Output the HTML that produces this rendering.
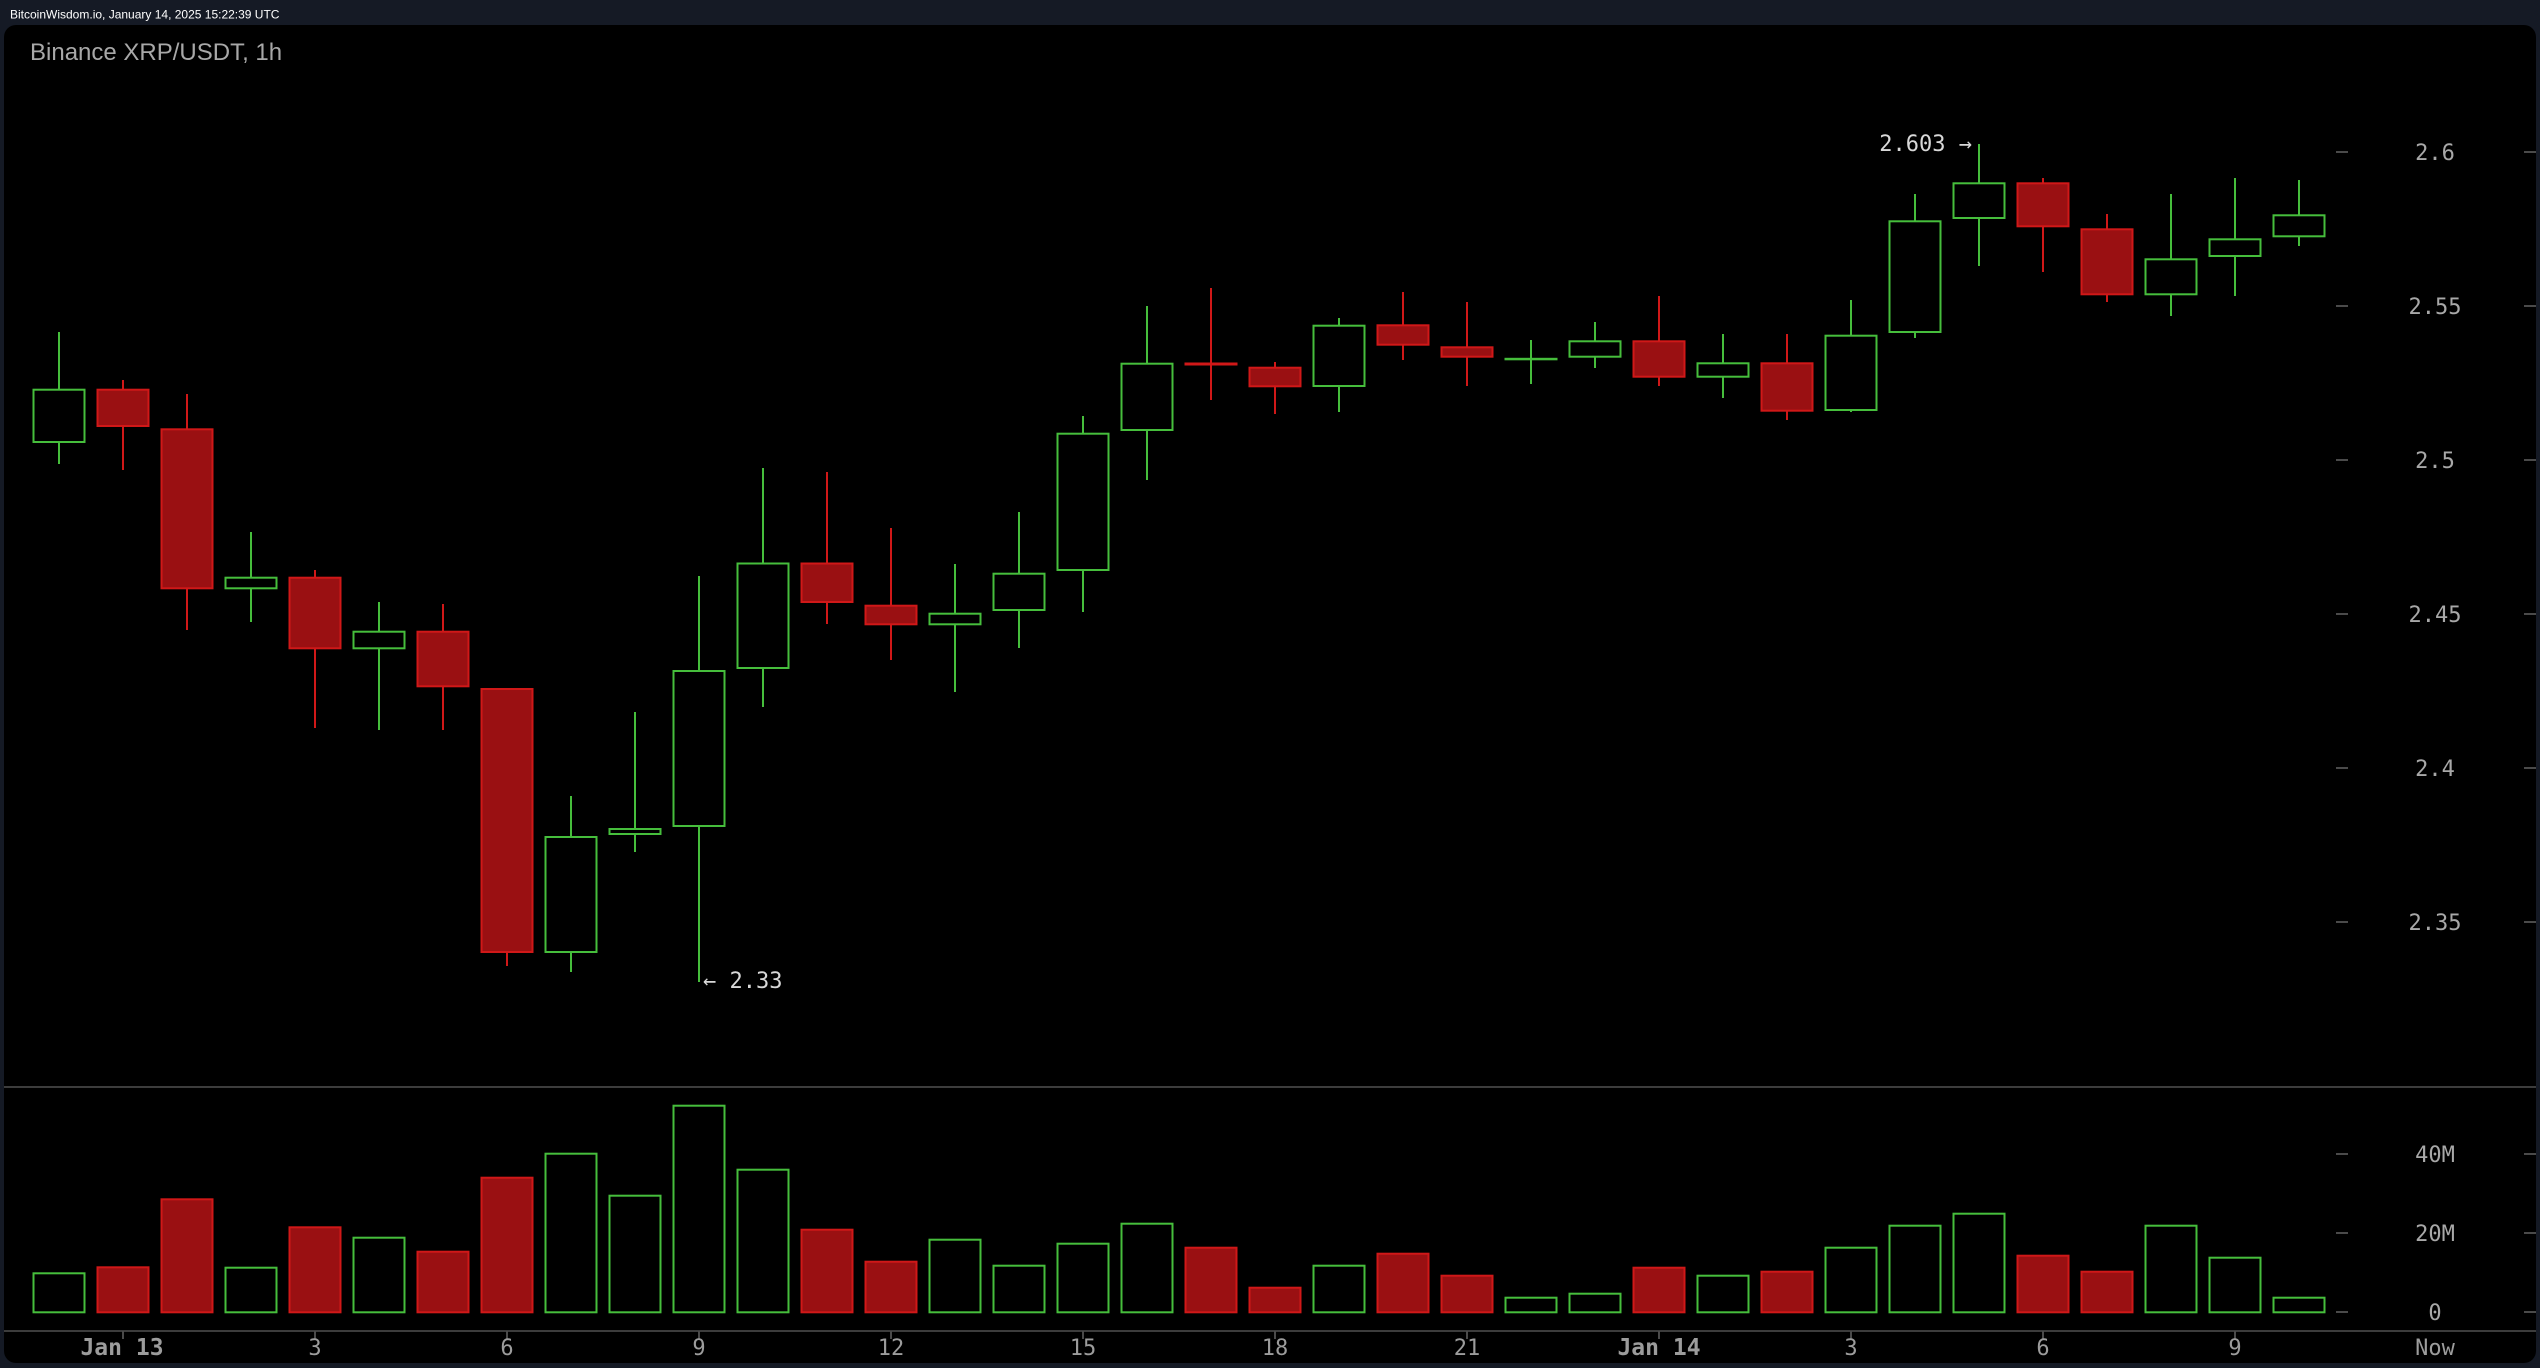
<!DOCTYPE html>
<html><head><meta charset="utf-8"><style>
html,body{margin:0;padding:0;background:#151a25;}
svg{display:block}
</style></head><body>
<svg width="2540" height="1368" viewBox="0 0 2540 1368" xmlns="http://www.w3.org/2000/svg">
<rect x="0" y="0" width="2540" height="1368" fill="#151a25"/>
<text x="10" y="18.5" font-family="Liberation Sans, Arial, sans-serif" font-size="12" fill="#ffffff">BitcoinWisdom.io, January 14, 2025 15:22:39 UTC</text>
<rect x="4" y="25" width="2532" height="1338" rx="12" ry="12" fill="#000"/>
<text x="30" y="60" font-family="Liberation Sans, Arial, sans-serif" font-size="24" fill="#a8a8a8">Binance XRP/USDT, 1h</text>
<line x1="4" y1="1087" x2="2536" y2="1087" stroke="#3c3c3c" stroke-width="2"/>
<line x1="4" y1="1331" x2="2536" y2="1331" stroke="#3c3c3c" stroke-width="2"/>
<g stroke="#4a4a4a" stroke-width="2">
<line x1="2336" y1="152" x2="2348" y2="152"/><line x1="2524" y1="152" x2="2536" y2="152"/>
<line x1="2336" y1="306" x2="2348" y2="306"/><line x1="2524" y1="306" x2="2536" y2="306"/>
<line x1="2336" y1="460" x2="2348" y2="460"/><line x1="2524" y1="460" x2="2536" y2="460"/>
<line x1="2336" y1="614" x2="2348" y2="614"/><line x1="2524" y1="614" x2="2536" y2="614"/>
<line x1="2336" y1="768" x2="2348" y2="768"/><line x1="2524" y1="768" x2="2536" y2="768"/>
<line x1="2336" y1="922" x2="2348" y2="922"/><line x1="2524" y1="922" x2="2536" y2="922"/>
<line x1="2336" y1="1154" x2="2348" y2="1154"/><line x1="2524" y1="1154" x2="2536" y2="1154"/>
<line x1="2336" y1="1233" x2="2348" y2="1233"/><line x1="2524" y1="1233" x2="2536" y2="1233"/>
<line x1="2336" y1="1312" x2="2348" y2="1312"/><line x1="2524" y1="1312" x2="2536" y2="1312"/>
<line x1="123" y1="1331" x2="123" y2="1339"/><line x1="315" y1="1331" x2="315" y2="1339"/>
<line x1="507" y1="1331" x2="507" y2="1339"/><line x1="699" y1="1331" x2="699" y2="1339"/>
<line x1="891" y1="1331" x2="891" y2="1339"/><line x1="1083" y1="1331" x2="1083" y2="1339"/>
<line x1="1275" y1="1331" x2="1275" y2="1339"/><line x1="1467" y1="1331" x2="1467" y2="1339"/>
<line x1="1659" y1="1331" x2="1659" y2="1339"/><line x1="1851" y1="1331" x2="1851" y2="1339"/>
<line x1="2043" y1="1331" x2="2043" y2="1339"/><line x1="2235" y1="1331" x2="2235" y2="1339"/>
</g>
<g font-family="DejaVu Sans Mono, Liberation Mono, monospace" font-size="22" fill="#a8a8a8" text-anchor="middle">
<text x="2435" y="160">2.6</text>
<text x="2435" y="314">2.55</text>
<text x="2435" y="468">2.5</text>
<text x="2435" y="622">2.45</text>
<text x="2435" y="776">2.4</text>
<text x="2435" y="930">2.35</text>
<text x="2435" y="1162">40M</text>
<text x="2435" y="1241">20M</text>
<text x="2435" y="1320">0</text>
</g>
<g font-family="DejaVu Sans Mono, Liberation Mono, monospace" font-size="22" fill="#9c9c9c" text-anchor="middle">
<text x="122" y="1355" font-weight="bold" font-size="23">Jan 13</text>
<text x="315" y="1355">3</text>
<text x="507" y="1355">6</text>
<text x="699" y="1355">9</text>
<text x="891" y="1355">12</text>
<text x="1083" y="1355">15</text>
<text x="1275" y="1355">18</text>
<text x="1467" y="1355">21</text>
<text x="1659" y="1355" font-weight="bold" font-size="23">Jan 14</text>
<text x="1851" y="1355">3</text>
<text x="2043" y="1355">6</text>
<text x="2235" y="1355">9</text>
<text x="2435" y="1355">Now</text>
</g>
<g font-family="DejaVu Sans Mono, Liberation Mono, monospace" font-size="22" fill="#d8d8d8">
<text x="703" y="988">← 2.33</text>
<text x="1972" y="151" text-anchor="end">2.603 →</text>
</g>
<g id="candles" stroke-width="2"></g>
<g id="vols" stroke-width="2"></g>
<script>
(function(){
var G='#46be3c',RS='#d01818',RF='#9a1012';
var c=[
['G',332,464,388.7,443],['R',380,470,388.7,427],['R',394,630,428.3,589.3],['G',532,622,576.7,589.3],
['R',570,728,576.7,649.3],['G',602,730,630.7,649.3],['R',604,730,630.7,687.3],['R',688,966,688,953],
['G',796,972,836,953],['G',712,852,828,835],['G',576,982,670,827],['G',468,707,562.5,669],
['R',472,624,562.5,603],['R',528,660,604.7,625.3],['G',564,692,612.7,625.3],['G',512,648,572.7,611],
['G',416,612,432.7,571],['G',306,480,362.7,431],['R',288,400,362.5,365.5],['R',362,414,366.7,387.3],
['G',318,412,324.7,387],['R',292,360,324.3,345.7],['R',302,386,346.3,357.7],['G',340,384,357.8,360.2],
['G',322,368,340.3,357.7],['R',296,386,340.3,377.7],['G',334,398,362.3,377.7],['R',334,420,362.3,411.7],
['G',300,412,334.7,411],['G',194,338,220.3,333],['G',144,266,182.3,219],['R',178,272,182.3,227.3],
['R',214,302,228.3,295.3],['G',194,316,258.3,295.3],['G',178,296,238.3,257],['G',180,246,214.3,237.3]];
var v=[1272.3,1266.3,1198.3,1266.7,1226.3,1236.7,1250.7,1176.7,1152.7,1194.7,1104.7,1168.7,1228.7,1260.7,1238.7,1264.7,1242.7,1222.7,1246.7,1286.7,1264.7,1252.7,1274.7,1296.7,1292.7,1266.7,1274.7,1270.7,1246.7,1224.7,1212.7,1254.7,1270.7,1224.7,1256.7,1296.7];
var ns='http://www.w3.org/2000/svg';
var cg=document.getElementById('candles'),vg=document.getElementById('vols');
function el(p,t,a){var e=document.createElementNS(ns,t);for(var k in a)e.setAttribute(k,a[k]);p.appendChild(e);return e;}
for(var i=0;i<36;i++){
 var x=59+64*i,d=c[i],g=d[0]=='G',s=g?G:RS,f=g?'#000':RF;
 el(cg,'line',{x1:x,y1:d[1],x2:x,y2:d[2],stroke:s});
 var h=d[4]-d[3];
 if(h<4){el(cg,'rect',{x:x-26.5,y:d[3],width:53,height:Math.max(h,2.5),fill:s,stroke:'none'});}
 else el(cg,'rect',{x:x-25.5,y:d[3]+1,width:51,height:h-2,fill:f,stroke:s});
 var vt=v[i];
 el(vg,'rect',{x:x-25.5,y:vt+1,width:51,height:1313.3-vt-2,fill:f,stroke:s});
}
})();
</script>
</svg>
</body></html>
